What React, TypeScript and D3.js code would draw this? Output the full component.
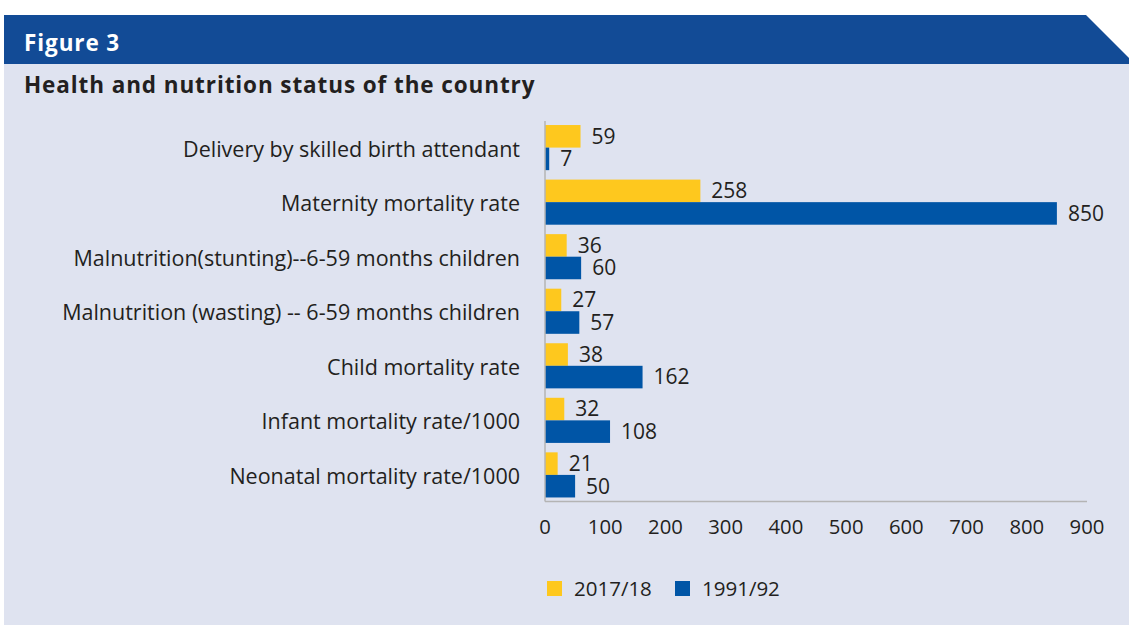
import React from "react";
import * as d3 from "d3";

const categories = [
  "Delivery by skilled birth attendant",
  "Maternity mortality rate",
  "Malnutrition(stunting)--6-59 months children",
  "Malnutrition (wasting) -- 6-59 months children",
  "Child mortality rate",
  "Infant mortality rate/1000",
  "Neonatal mortality rate/1000",
];
const values2017 = [59, 258, 36, 27, 38, 32, 21];
const values1991 = [7, 850, 60, 57, 162, 108, 50];
const seriesNames = ["2017/18", "1991/92"];
const xTicks = [0, 100, 200, 300, 400, 500, 600, 700, 800, 900];

const W = 1129;
const H = 626;
const BLUE_HEADER = "#124b96";
const PANEL = "#dfe3f0";
const YELLOW = "#fec81e";
const BLUE = "#0055a6";
const TEXT = "#231f20";
const FONT = "'Open Sans', 'Noto Sans', sans-serif";

export default function App() {
  const x = d3.scaleLinear().domain([0, 900]).range([545, 1087]);
  const y = d3
    .scaleBand<string>()
    .domain(categories)
    .range([121, 501.5])
    .paddingInner(0.173)
    .paddingOuter(0.074);
  const series = [values2017, values1991];
  const colors = [YELLOW, BLUE];
  const bh = y.bandwidth() / 2;

  const header = `M4,15 L1086,15 L1129,58 L1129,64 L4,64 Z`;

  return (
    <svg
      width={W}
      height={H}
      style={{ position: "absolute", left: 0, top: 0, background: "#fff" }}
      fontFamily={FONT}
    >
      <rect x={4} y={64} width={W - 4} height={561} fill={PANEL} />
      <path d={header} fill={BLUE_HEADER} />
      <text x={24} y={51} fill="#fff" fontSize={22.5} fontWeight={700} letterSpacing={0.9}>
        Figure 3
      </text>
      <text x={24} y={93} fill={TEXT} fontSize={22.5} fontWeight={700} letterSpacing={0.9}>
        Health and nutrition status of the country
      </text>

      {/* bars */}
      {categories.map((c, i) => (
        <g key={c}>
          {series.map((vals, s) => {
            const y0 = (y(c) as number) + s * bh;
            return (
              <g key={s}>
                <rect
                  x={x(0)}
                  y={y0}
                  width={x(vals[i]) - x(0)}
                  height={bh}
                  fill={colors[s]}
                />
                <text
                  x={x(vals[i]) + 11}
                  y={y0 + bh / 2}
                  dy="0.35em"
                  fontSize={21}
                  fill={TEXT}
                >
                  {vals[i]}
                </text>
              </g>
            );
          })}
          <text
            x={520}
            y={(y(c) as number) + y.bandwidth() / 2 + 1.5}
            dy="0.35em"
            textAnchor="end"
            fontSize={21.5}
            fill={TEXT}
          >
            {c}
          </text>
        </g>
      ))}

      {/* axes */}
      <line x1={x(0)} x2={x(0)} y1={121} y2={501.5} stroke="#b4b4b4" strokeWidth={1.5} />
      <line x1={x(0)} x2={x(900)} y1={501.5} y2={501.5} stroke="#b4b4b4" strokeWidth={1.5} />
      {xTicks.map((t) => (
        <text
          key={t}
          x={x(t)}
          y={527}
          dy="0.35em"
          textAnchor="middle"
          fontSize={20.3}
          fill={TEXT}
        >
          {t}
        </text>
      ))}

      {/* legend */}
      {seriesNames.map((n, i) => {
        const lx = i === 0 ? 547 : 675;
        return (
          <g key={n}>
            <rect x={lx} y={581} width={15} height={15} fill={colors[i]} />
            <text x={lx + 27} y={588.5} dy="0.35em" fontSize={20.5} fill={TEXT}>
              {n}
            </text>
          </g>
        );
      })}
    </svg>
  );
}
